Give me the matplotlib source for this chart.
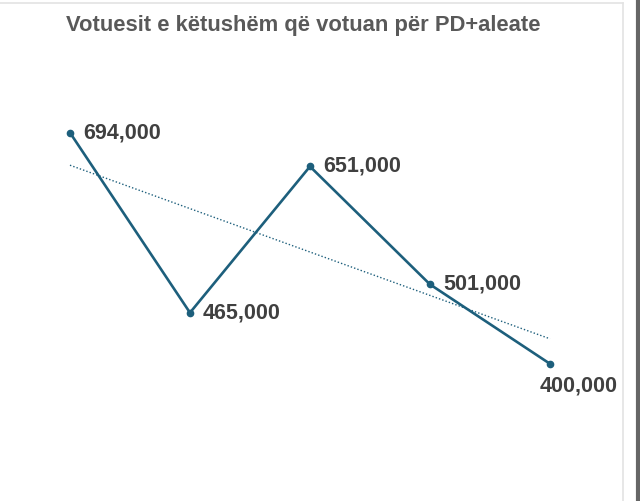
import numpy as np
import matplotlib.pyplot as plt
from matplotlib.lines import Line2D

# vlerat e grafikut
pozicionet = [0, 1, 2, 3, 4]
votues = [694000, 465000, 651000, 501000, 400000]
etiketat = ['694,000', '465,000', '651,000', '501,000', '400,000']
titulli = 'Votuesit e këtushëm që votuan për PD+aleate'

ngjyra = '#1d5f7c'

fig = plt.figure(figsize=(6.4, 5.02), dpi=100)
ax = fig.add_axes([0, 0, 1, 1])
ax.set_xlim(-0.583, 4.75)
ax.set_ylim(225500, 864000)
ax.axis('off')

# vija kryesore
ax.plot(pozicionet, votues, color=ngjyra, lw=1.9, marker='o', ms=4.5, zorder=3)

# vija e trendit (lineare)
k, b = np.polyfit(pozicionet, votues, 1)
xx = np.array([pozicionet[0], pozicionet[-1]])
ax.plot(xx, k * xx + b, color=ngjyra, lw=1.0, ls=(0, (1, 1.5)), zorder=2)

# etiketat e vlerave
for i, (x, y, t) in enumerate(zip(pozicionet, votues, etiketat)):
    if i == len(votues) - 1:
        ax.annotate(t, (x, y), xytext=(-10, -11), textcoords='offset pixels',
                    ha='left', va='top', fontsize=15.5, fontweight='bold',
                    color='#404040', family='Liberation Sans')
    else:
        ax.annotate(t, (x, y), xytext=(13, 1), textcoords='offset pixels',
                    ha='left', va='center', fontsize=15.5, fontweight='bold',
                    color='#404040', family='Liberation Sans')

fig.text(303 / 640, 1 - 25 / 502, titulli, ha='center', va='center', fontsize=15.8,
         fontweight='bold', color='#595959', family='Liberation Sans')

# korniza e dritares
fig.add_artist(Line2D([0, 623 / 640], [1 - 3.5 / 502] * 2, color='#e3e3e3', lw=1.2))
fig.add_artist(Line2D([622.5 / 640] * 2, [0, 1 - 3.5 / 502], color='#e3e3e3', lw=1.2))
fig.add_artist(Line2D([638 / 640] * 2, [0, 1], color='#666666', lw=3))

fig.savefig('out.png', dpi=100)
